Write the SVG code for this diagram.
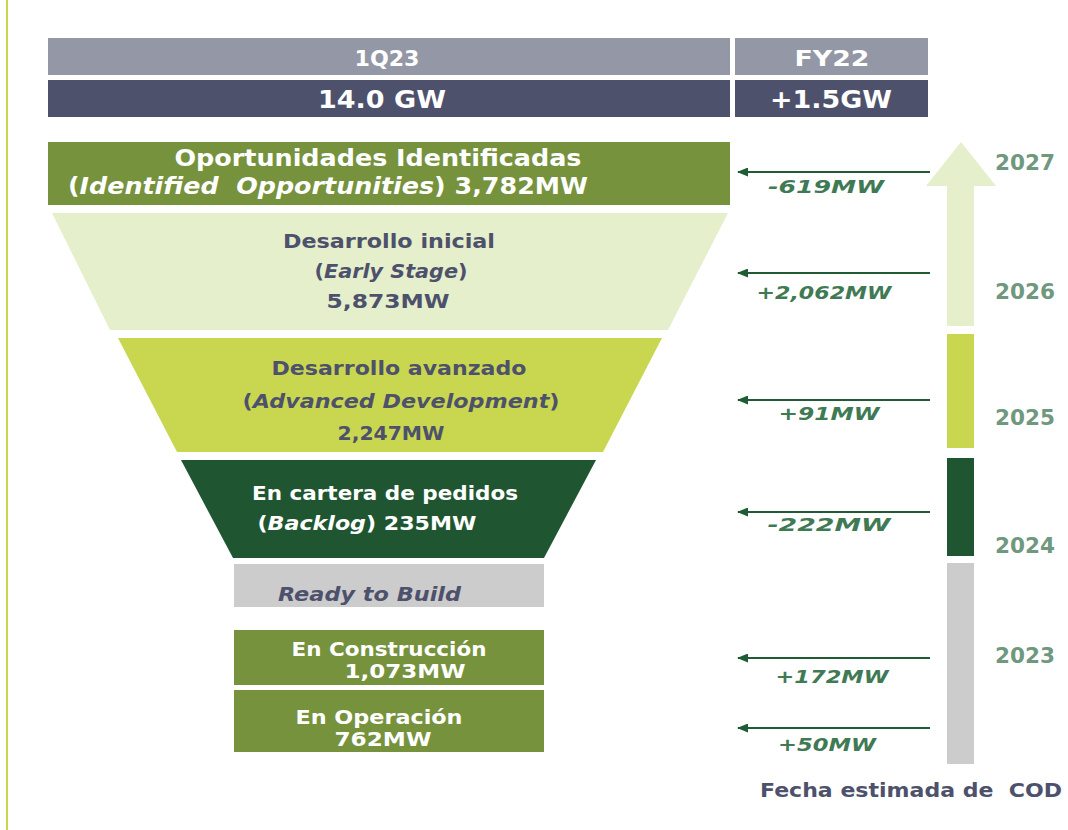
<svg xmlns="http://www.w3.org/2000/svg" width="1068" height="830" viewBox="0 0 1068 830">
<defs>
<style>
text{font-family:"DejaVu Sans","Verdana",sans-serif;font-weight:bold;}
.w{fill:#ffffff;}
.d{fill:#4e516b;}
.c{text-anchor:middle;}
.it{font-style:italic;}
.pre{white-space:pre;}
.lbl{fill:#3f7a55;font-style:italic;font-size:17px;text-anchor:middle;}
.yr{fill:#6f987f;font-size:21px;text-anchor:middle;}
.conn{stroke:#1f5c34;stroke-width:2;fill:none;marker-end:url(#ah);}
</style>
<marker id="ah" markerWidth="11" markerHeight="9" refX="10" refY="4.5" orient="auto" markerUnits="userSpaceOnUse">
<path d="M0,0 L11,4.5 L0,9 Z" fill="#1f5c34"/>
</marker>
</defs>
<rect width="1068" height="830" fill="#ffffff"/>
<line x1="7" y1="0" x2="7" y2="830" stroke="#c9d750" stroke-width="2"/>

<g id="header">
<rect x="48" y="38" width="682" height="37" fill="#9497a6"/>
<rect x="735" y="38" width="193" height="37" fill="#9497a6"/>
<rect x="48" y="80" width="682" height="37" fill="#4e516b"/>
<rect x="735" y="80" width="193" height="37" fill="#4e516b"/>
<text class="w c" x="387" y="66" font-size="22" textLength="65" lengthAdjust="spacingAndGlyphs">1Q23</text>
<text class="w c" x="832" y="66" font-size="22" textLength="75" lengthAdjust="spacingAndGlyphs">FY22</text>
<text class="w c" x="382" y="108" font-size="24" textLength="128" lengthAdjust="spacingAndGlyphs">14.0 GW</text>
<text class="w c" x="831" y="108" font-size="24" textLength="122" lengthAdjust="spacingAndGlyphs">+1.5GW</text>
</g>

<g id="identified">
<rect x="48" y="142" width="682" height="63" fill="#76923c"/>
<text class="w c" x="378" y="166" font-size="23" textLength="407" lengthAdjust="spacingAndGlyphs">Oportunidades Identificadas</text>
<text class="w c pre" x="328" y="194" font-size="23" textLength="520" lengthAdjust="spacingAndGlyphs" xml:space="preserve">(<tspan class="it">Identified  Opportunities</tspan>) 3,782MW</text>
</g>

<g id="early">
<polygon points="52,213 728,213 668,330 110,330" fill="#e5efcb"/>
<text class="d c" x="389" y="248" font-size="19" textLength="212" lengthAdjust="spacingAndGlyphs">Desarrollo inicial</text>
<text class="d c" x="391" y="278" font-size="19" textLength="153" lengthAdjust="spacingAndGlyphs">(<tspan class="it">Early Stage</tspan>)</text>
<text class="d c" x="388" y="308" font-size="19" textLength="123" lengthAdjust="spacingAndGlyphs">5,873MW</text>
</g>

<g id="advanced">
<polygon points="118,338 662,338 603,452 177,452" fill="#c9d750"/>
<text class="d c" x="399" y="375" font-size="19" textLength="255" lengthAdjust="spacingAndGlyphs">Desarrollo avanzado</text>
<text class="d c" x="401" y="408" font-size="19" textLength="317" lengthAdjust="spacingAndGlyphs">(<tspan class="it">Advanced Development</tspan>)</text>
<text class="d c" x="391" y="440" font-size="19" textLength="107" lengthAdjust="spacingAndGlyphs">2,247MW</text>
</g>

<g id="backlog">
<polygon points="181,460 596,460 544,558 233,558" fill="#1f5631"/>
<text class="w c" x="385" y="500" font-size="19" textLength="266" lengthAdjust="spacingAndGlyphs">En cartera de pedidos</text>
<text class="w c" x="367" y="530" font-size="19" textLength="219" lengthAdjust="spacingAndGlyphs">(<tspan class="it">Backlog</tspan>) 235MW</text>
</g>

<g id="rtb">
<rect x="234" y="564" width="310" height="43" fill="#cdcccd"/>
<text class="d it" x="278" y="601" font-size="19" textLength="183" lengthAdjust="spacingAndGlyphs">Ready to Build</text>
</g>

<g id="construction">
<rect x="234" y="630" width="310" height="55" fill="#76923c"/>
<text class="w c" x="389" y="656" font-size="19" textLength="195" lengthAdjust="spacingAndGlyphs">En Construcción</text>
<text class="w c" x="405" y="678" font-size="19" textLength="121" lengthAdjust="spacingAndGlyphs">1,073MW</text>
</g>

<g id="operation">
<rect x="234" y="690" width="310" height="62" fill="#76923c"/>
<text class="w c" x="379" y="724" font-size="19" textLength="167" lengthAdjust="spacingAndGlyphs">En Operación</text>
<text class="w c" x="383" y="746" font-size="19" textLength="97" lengthAdjust="spacingAndGlyphs">762MW</text>
</g>

<g id="timeline">
<polygon points="947,326 974,326 974,186 996,186 961,142 926,186 947,186" fill="#e5efcb"/>
<rect x="947" y="334" width="27" height="114" fill="#c9d750"/>
<rect x="947" y="458" width="27" height="98" fill="#1f5631"/>
<rect x="947" y="563" width="27" height="201" fill="#cdcccd"/>
<text class="yr" x="1025" y="170" textLength="60" lengthAdjust="spacingAndGlyphs">2027</text>
<text class="yr" x="1025" y="299" textLength="60" lengthAdjust="spacingAndGlyphs">2026</text>
<text class="yr" x="1025" y="425" textLength="60" lengthAdjust="spacingAndGlyphs">2025</text>
<text class="yr" x="1025" y="553" textLength="60" lengthAdjust="spacingAndGlyphs">2024</text>
<text class="yr" x="1025" y="663" textLength="60" lengthAdjust="spacingAndGlyphs">2023</text>
<text class="d pre" x="760" y="797" font-size="19" textLength="302" lengthAdjust="spacingAndGlyphs" xml:space="preserve">Fecha estimada de  COD</text>
</g>

<g id="connectors">
<line class="conn" x1="930" y1="172" x2="738" y2="172"/>
<line class="conn" x1="930" y1="273" x2="738" y2="273"/>
<line class="conn" x1="930" y1="400" x2="738" y2="400"/>
<line class="conn" x1="930" y1="512" x2="738" y2="512"/>
<line class="conn" x1="930" y1="658" x2="738" y2="658"/>
<line class="conn" x1="930" y1="728" x2="738" y2="728"/>
<text class="lbl" x="826" y="193" textLength="116" lengthAdjust="spacingAndGlyphs">-619MW</text>
<text class="lbl" x="824" y="299" textLength="135" lengthAdjust="spacingAndGlyphs">+2,062MW</text>
<text class="lbl" x="829" y="420" textLength="101" lengthAdjust="spacingAndGlyphs">+91MW</text>
<text class="lbl" x="829" y="531" textLength="123" lengthAdjust="spacingAndGlyphs">-222MW</text>
<text class="lbl" x="832" y="683" textLength="113" lengthAdjust="spacingAndGlyphs">+172MW</text>
<text class="lbl" x="827" y="751" textLength="98" lengthAdjust="spacingAndGlyphs">+50MW</text>
</g>
</svg>
